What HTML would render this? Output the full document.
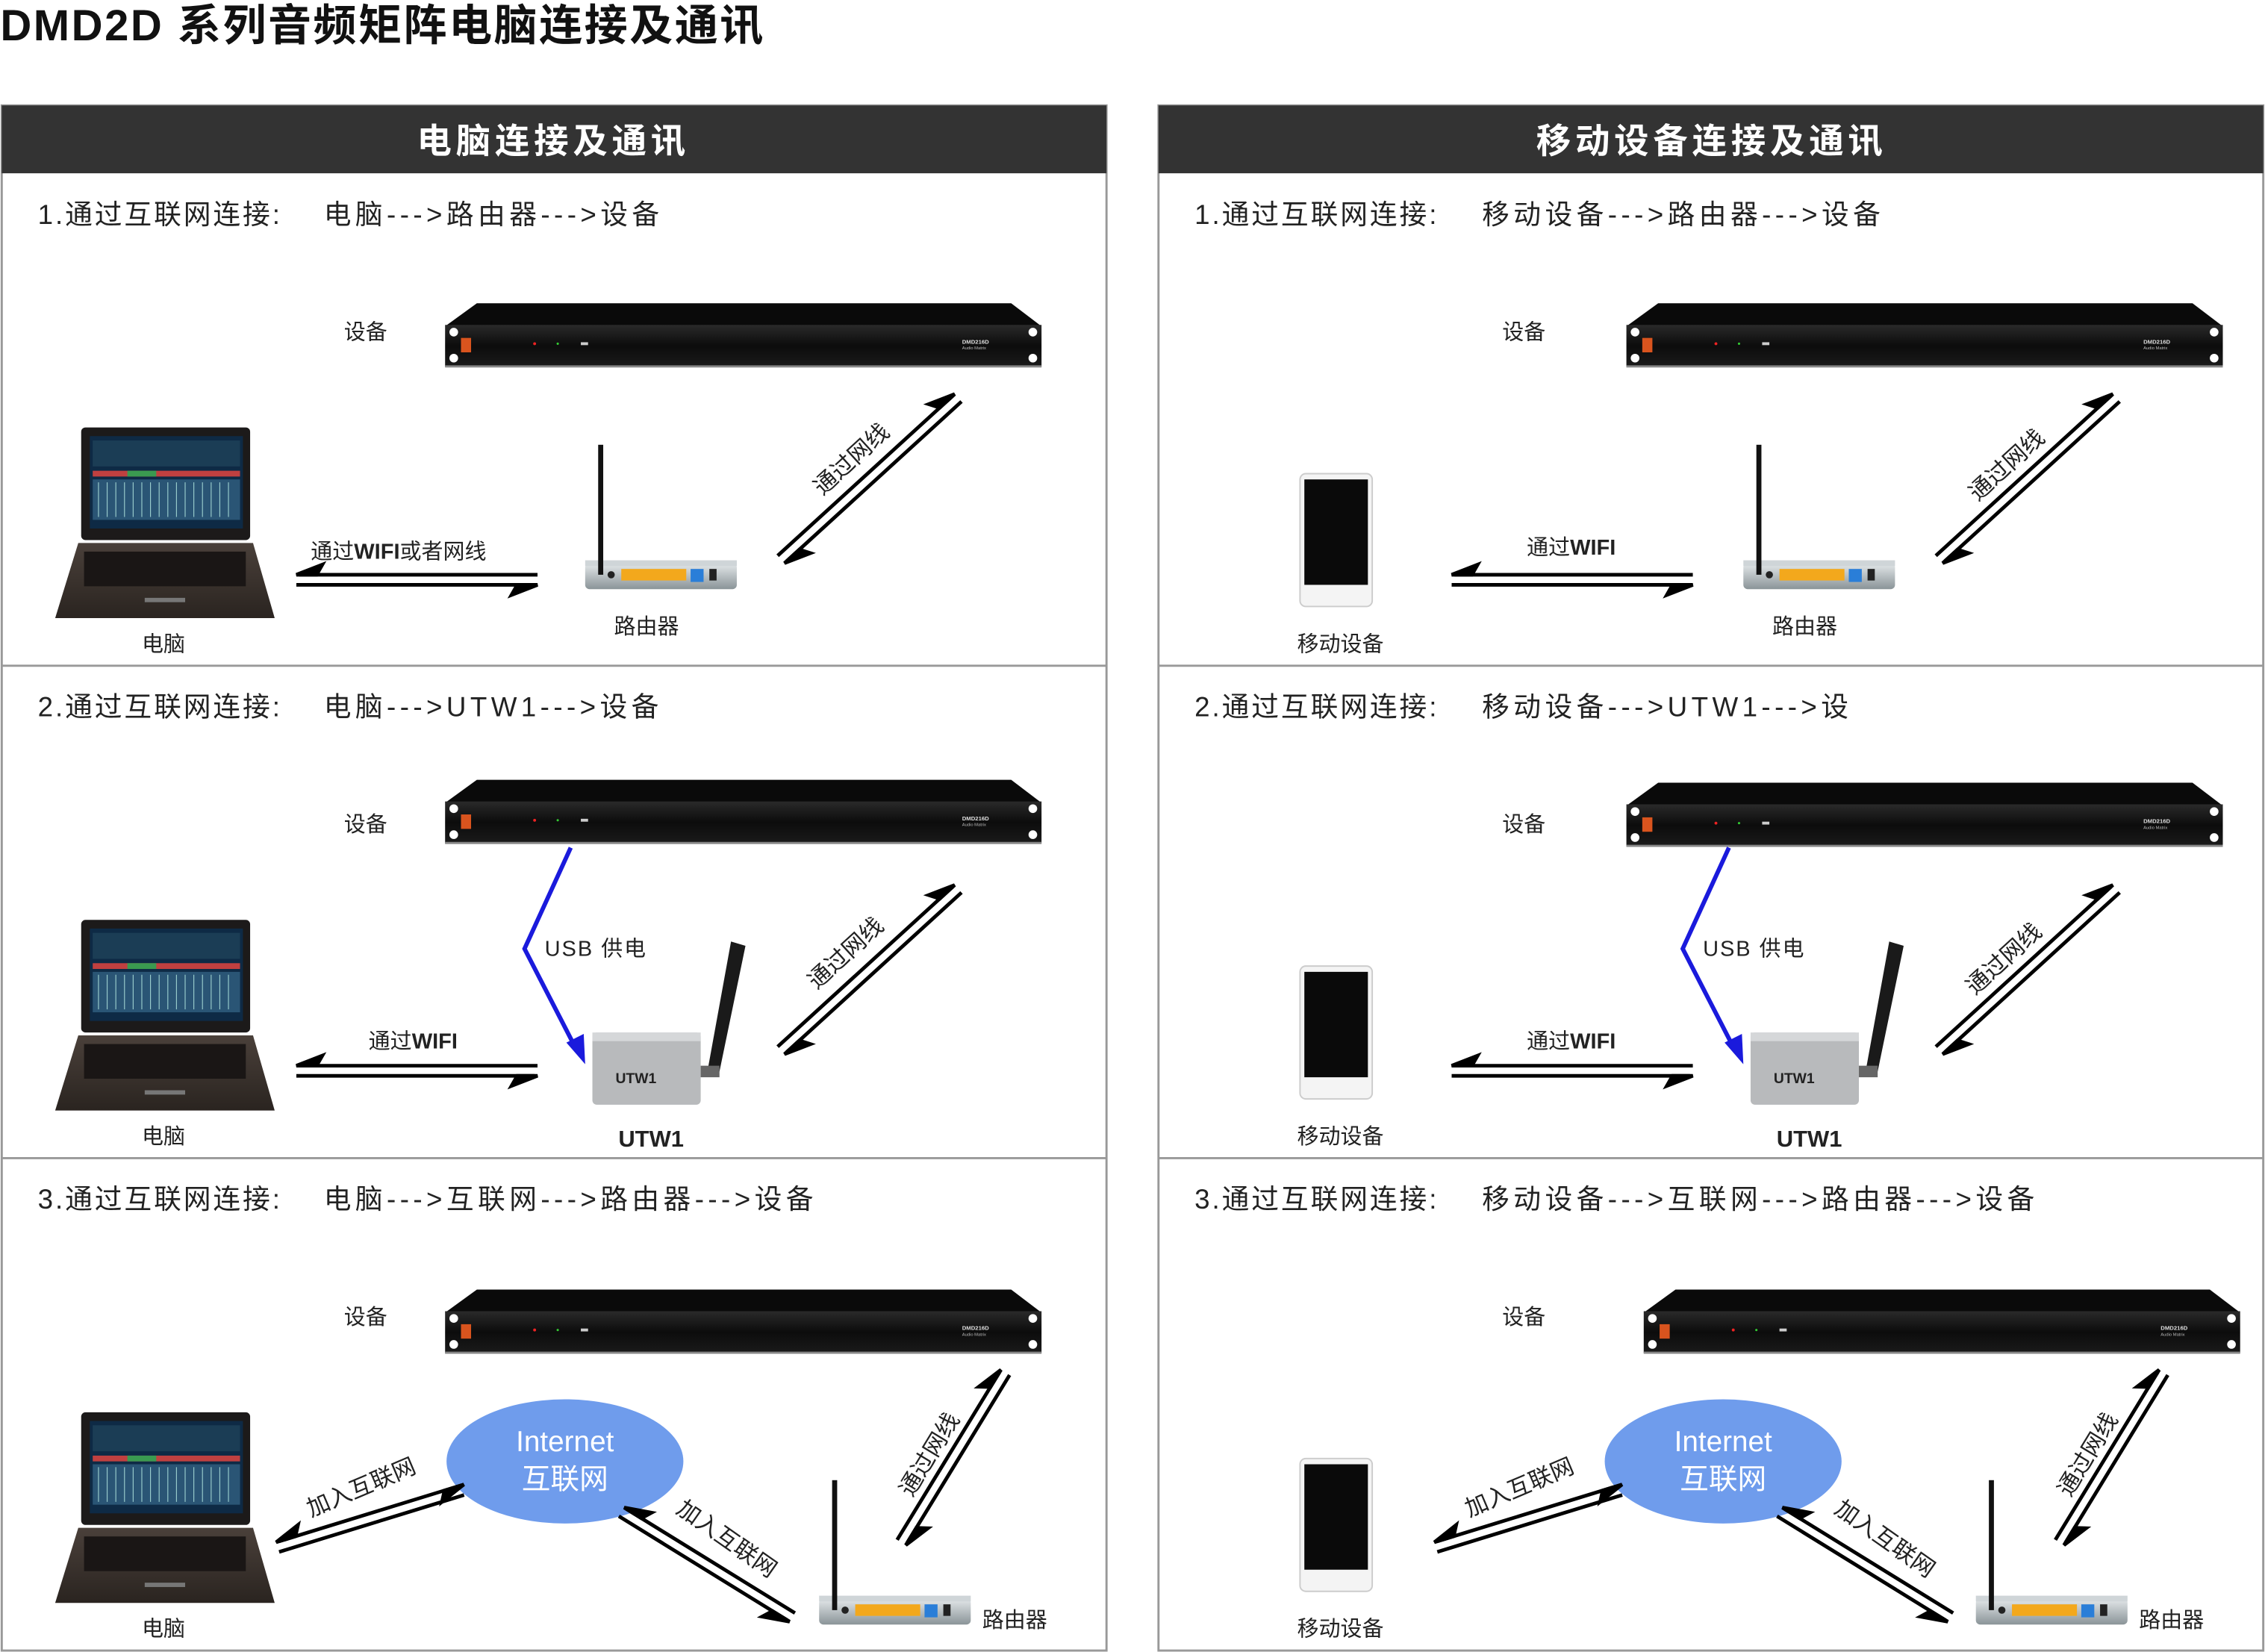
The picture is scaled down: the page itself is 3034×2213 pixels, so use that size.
<!DOCTYPE html>
<html><head><meta charset="utf-8"><style>
html,body{margin:0;padding:0;background:#fff}
svg{display:block}
text{font-family:"Liberation Sans","Noto Sans CJK SC",sans-serif}
</style></head><body>
<svg width="3034" height="2213" viewBox="0 0 1568 1144" xmlns="http://www.w3.org/2000/svg">
<defs>
<linearGradient id="fr" x1="0" y1="0" x2="0" y2="1"><stop offset="0" stop-color="#2a2a2a"/><stop offset="0.5" stop-color="#0c0c0c"/><stop offset="1" stop-color="#1a1a1a"/></linearGradient>
<linearGradient id="rt" x1="0" y1="0" x2="0" y2="1"><stop offset="0" stop-color="#e4e8ea"/><stop offset="1" stop-color="#8a9498"/></linearGradient>
<linearGradient id="lp" x1="0" y1="0" x2="0" y2="1"><stop offset="0" stop-color="#4a403a"/><stop offset="1" stop-color="#2a2420"/></linearGradient>
<g id="dev">
<path d="M22,0 L392,0 L413,16 L0,16 Z" fill="#0a0a0a"/>
<rect x="0" y="15" width="413" height="29" fill="url(#fr)"/>
<rect x="0" y="43" width="413" height="1.5" fill="#888"/>
<circle cx="6" cy="20" r="3" fill="#fff"/><circle cx="6" cy="38" r="3" fill="#fff"/>
<circle cx="407" cy="20" r="3" fill="#fff"/><circle cx="407" cy="38" r="3" fill="#fff"/>
<rect x="11" y="24" width="7" height="10" fill="#d9541e"/>
<circle cx="62" cy="28" r="1" fill="#e22"/><circle cx="78" cy="28" r="0.8" fill="#3c3"/>
<rect x="94" y="27" width="5" height="2" fill="#ccc"/>
<text x="358" y="28" font-size="4" fill="#ddd" font-weight="bold">DMD216D</text>
<text x="358" y="32" font-size="3" fill="#bbb">Audio Matrix</text>
</g>
<g id="lap">
<rect x="18" y="0" width="117" height="78" rx="3" fill="#1c1a1a"/>
<rect x="24" y="6" width="106" height="64" fill="#0e2a45"/>
<rect x="26" y="9" width="102" height="18" fill="#1b3d55"/>
<rect x="26" y="30" width="102" height="4" fill="#c04040"/>
<rect x="50" y="30" width="20" height="4" fill="#3a9a50"/>
<rect x="26" y="36" width="102" height="28" fill="#2a5575"/>
<g stroke="#9cc" stroke-width="0.6"><path d="M30,38v24M36,38v24M42,38v24M48,38v24M54,38v24M60,38v24M66,38v24M72,38v24M78,38v24M84,38v24M90,38v24M96,38v24M102,38v24M108,38v24M114,38v24M120,38v24"/></g>
<path d="M16,80 L137,80 L152,132 L0,132 Z" fill="url(#lp)"/>
<rect x="20" y="86" width="112" height="24" fill="#1a1615"/>
<rect x="62" y="118" width="28" height="3" fill="#777"/>
</g>
<g id="rtr">
<rect x="0" y="82" width="105" height="18" rx="3" fill="url(#rt)"/>
<rect x="0" y="80" width="105" height="4" fill="#cfd5d8"/>
<rect x="25" y="86" width="45" height="8" fill="#f3a81c"/>
<rect x="73" y="86" width="9" height="9" fill="#2a7ed8"/>
<circle cx="18" cy="90" r="2.5" fill="#222"/>
<rect x="86" y="86" width="5" height="8" fill="#222"/>
<rect x="9" y="0" width="3.5" height="90" fill="#111"/>
</g>
<g id="phone">
<rect x="0" y="0" width="50" height="92" rx="4" fill="#f4f4f4" stroke="#ccc"/>
<rect x="3" y="4" width="44" height="73" fill="#0a0a0a"/>
</g>
<g id="utw">
<path d="M96,0 L106,3 L88,90 L80,88 Z" fill="#1a1a1a"/>
<rect x="0" y="63" width="75" height="50" rx="3" fill="#b8babc"/>
<rect x="0" y="63" width="75" height="6" fill="#d5d7d9"/>
<rect x="75" y="86" width="13" height="8" fill="#666"/>
<text x="16" y="98" font-size="10" font-weight="bold" fill="#222">UTW1</text>
</g>
</defs>

<text x="0" y="28" font-size="30" font-weight="bold" fill="#111" letter-spacing="1.3">DMD2D 系列音频矩阵电脑连接及通讯</text>

<g stroke="#999" stroke-width="1.5" fill="none">
<rect x="1" y="73" width="765" height="1070"/>
<rect x="802" y="73" width="765" height="1070"/>
<line x1="1" y1="461" x2="766" y2="461"/><line x1="1" y1="802" x2="766" y2="802"/>
<line x1="802" y1="461" x2="1567" y2="461"/><line x1="802" y1="802" x2="1567" y2="802"/>
</g>
<rect x="1" y="73" width="765" height="47" fill="#333"/>
<rect x="802" y="73" width="765" height="47" fill="#333"/>
<text x="383" y="106" font-size="24" font-weight="bold" fill="#fff" text-anchor="middle" letter-spacing="3">电脑连接及通讯</text>
<text x="1185" y="106" font-size="24" font-weight="bold" fill="#fff" text-anchor="middle" letter-spacing="3">移动设备连接及通讯</text>

<g font-size="19" fill="#222" letter-spacing="1.5">
<text x="26" y="155">1.通过互联网连接:</text>
<text x="26" y="496">2.通过互联网连接:</text>
<text x="26" y="837">3.通过互联网连接:</text>
<text x="827" y="155">1.通过互联网连接:</text>
<text x="827" y="496">2.通过互联网连接:</text>
<text x="827" y="837">3.通过互联网连接:</text>
</g>
<g font-size="19" fill="#222" letter-spacing="2.8">
<text x="224" y="155">电脑--->路由器--->设备</text>
<text x="224" y="496">电脑--->UTW1--->设备</text>
<text x="224" y="837">电脑--->互联网--->路由器--->设备</text>
<text x="1026" y="155">移动设备--->路由器--->设备</text>
<text x="1026" y="496">移动设备--->UTW1--->设</text>
<text x="1026" y="837">移动设备--->互联网--->路由器--->设备</text>
</g>

<use href="#dev" x="308" y="210"/><use href="#dev" x="308" y="540"/><use href="#dev" x="308" y="893"/>
<use href="#dev" x="1126" y="210"/><use href="#dev" x="1126" y="542"/><use href="#dev" x="1138" y="893"/>
<g font-size="15" fill="#222">
<text x="238" y="235">设备</text><text x="238" y="576">设备</text><text x="238" y="917">设备</text>
<text x="1040" y="235">设备</text><text x="1040" y="576">设备</text><text x="1040" y="917">设备</text>
<text x="98" y="451">电脑</text><text x="98" y="792">电脑</text><text x="98" y="1133">电脑</text>
<text x="898" y="451">移动设备</text><text x="898" y="792">移动设备</text><text x="898" y="1133">移动设备</text>
<text x="425" y="439">路由器</text><text x="1227" y="439">路由器</text>
<text x="680" y="1127">路由器</text><text x="1481" y="1127">路由器</text>
<text x="215" y="387">通过<tspan font-weight="bold">WIFI</tspan>或者网线</text>
<text x="1057" y="384">通过<tspan font-weight="bold">WIFI</tspan></text>
<text x="255" y="726">通过<tspan font-weight="bold">WIFI</tspan></text>
<text x="1057" y="726">通过<tspan font-weight="bold">WIFI</tspan></text>
<text x="377" y="662" letter-spacing="1">USB 供电</text>
<text x="1179" y="662" letter-spacing="1">USB 供电</text>
<text x="428" y="794" font-weight="bold" font-size="16">UTW1</text>
<text x="1230" y="794" font-weight="bold" font-size="16">UTW1</text>
</g>

<use href="#lap" x="38" y="296"/><use href="#lap" x="38" y="637"/><use href="#lap" x="38" y="978"/>
<use href="#phone" x="900" y="328"/><use href="#phone" x="900" y="669"/><use href="#phone" x="900" y="1010"/>
<use href="#rtr" x="405" y="308"/><use href="#rtr" x="1207" y="308"/>
<use href="#rtr" x="567" y="1025"/><use href="#rtr" x="1368" y="1025"/>
<use href="#utw" x="410" y="652"/><use href="#utw" x="1212" y="652"/>

<g stroke="#1a1adc" stroke-width="3" fill="none"><polyline points="395,587 363,657 398,725"/><polyline points="1197,587 1165,657 1200,725"/></g>
<path d="M405,737 L392,722 L404,716 Z" fill="#1a1adc"/><path d="M1207,737 L1194,722 L1206,716 Z" fill="#1a1adc"/>

<ellipse cx="391" cy="1012" rx="82" ry="43" fill="#6f9cec"/>
<ellipse cx="1193" cy="1012" rx="82" ry="43" fill="#6f9cec"/>
<g fill="#fff" font-size="20" text-anchor="middle">
<text x="391" y="1005">Internet</text><text x="391" y="1031">互联网</text>
<text x="1193" y="1005">Internet</text><text x="1193" y="1031">互联网</text>
</g>

<g stroke="#000" stroke-width="2.5" fill="#000">
<g transform="translate(205,398)"><line x1="2" y1="0" x2="167" y2="0"/><path d="M0,0 L18,-7 L14,0 Z"/><line x1="0" y1="7" x2="165" y2="7"/><path d="M167,7 L149,14 L153,7 Z"/></g>
<g transform="translate(1005,398)"><line x1="2" y1="0" x2="167" y2="0"/><path d="M0,0 L18,-7 L14,0 Z"/><line x1="0" y1="7" x2="165" y2="7"/><path d="M167,7 L149,14 L153,7 Z"/></g>
<g transform="translate(205,738)"><line x1="2" y1="0" x2="167" y2="0"/><path d="M0,0 L18,-7 L14,0 Z"/><line x1="0" y1="7" x2="165" y2="7"/><path d="M167,7 L149,14 L153,7 Z"/></g>
<g transform="translate(1005,738)"><line x1="2" y1="0" x2="167" y2="0"/><path d="M0,0 L18,-7 L14,0 Z"/><line x1="0" y1="7" x2="165" y2="7"/><path d="M167,7 L149,14 L153,7 Z"/></g>
<g transform="translate(543,390) rotate(-42.4)"><line x1="2" y1="0" x2="166" y2="0"/><path d="M0,0 L18,7 L14,0 Z"/><line x1="0" y1="-7" x2="164" y2="-7"/><path d="M166,-7 L148,-14 L152,-7 Z"/></g>
<g transform="translate(1345,390) rotate(-42.4)"><line x1="2" y1="0" x2="166" y2="0"/><path d="M0,0 L18,7 L14,0 Z"/><line x1="0" y1="-7" x2="164" y2="-7"/><path d="M166,-7 L148,-14 L152,-7 Z"/></g>
<g transform="translate(543,730) rotate(-42.4)"><line x1="2" y1="0" x2="166" y2="0"/><path d="M0,0 L18,7 L14,0 Z"/><line x1="0" y1="-7" x2="164" y2="-7"/><path d="M166,-7 L148,-14 L152,-7 Z"/></g>
<g transform="translate(1345,730) rotate(-42.4)"><line x1="2" y1="0" x2="166" y2="0"/><path d="M0,0 L18,7 L14,0 Z"/><line x1="0" y1="-7" x2="164" y2="-7"/><path d="M166,-7 L148,-14 L152,-7 Z"/></g>
<g transform="translate(191,1068) rotate(-17.1)"><line x1="2" y1="0" x2="136" y2="0"/><path d="M0,0 L18,-7 L14,0 Z"/><line x1="0" y1="7" x2="134" y2="7"/><path d="M136,0 L118,7 L122,0 Z"/></g>
<g transform="translate(993,1068) rotate(-17.1)"><line x1="2" y1="0" x2="136" y2="0"/><path d="M0,0 L18,-7 L14,0 Z"/><line x1="0" y1="7" x2="134" y2="7"/><path d="M136,0 L118,7 L122,0 Z"/></g>
<g transform="translate(432,1044) rotate(31.7)"><line x1="2" y1="0" x2="139" y2="0"/><path d="M0,0 L18,-7 L14,0 Z"/><line x1="0" y1="7" x2="137" y2="7"/><path d="M139,7 L121,14 L125,7 Z"/></g>
<g transform="translate(1234,1044) rotate(31.7)"><line x1="2" y1="0" x2="139" y2="0"/><path d="M0,0 L18,-7 L14,0 Z"/><line x1="0" y1="7" x2="137" y2="7"/><path d="M139,7 L121,14 L125,7 Z"/></g>
<g transform="translate(627,1070) rotate(-58.6)"><line x1="2" y1="0" x2="138" y2="0"/><path d="M0,0 L18,7 L14,0 Z"/><line x1="0" y1="-7" x2="136" y2="-7"/><path d="M138,-7 L120,-14 L124,-7 Z"/></g>
<g transform="translate(1429,1070) rotate(-58.6)"><line x1="2" y1="0" x2="138" y2="0"/><path d="M0,0 L18,7 L14,0 Z"/><line x1="0" y1="-7" x2="136" y2="-7"/><path d="M138,-7 L120,-14 L124,-7 Z"/></g>
</g>

<g font-size="16" fill="#222" text-anchor="middle">
<text transform="translate(593,322) rotate(-42.4)">通过网线</text>
<text transform="translate(1393,326) rotate(-42.4)">通过网线</text>
<text transform="translate(589,664) rotate(-42.4)">通过网线</text>
<text transform="translate(1391,668) rotate(-42.4)">通过网线</text>
<text transform="translate(648,1010) rotate(-58.6)">通过网线</text>
<text transform="translate(1450,1010) rotate(-58.6)">通过网线</text>
<text transform="translate(252,1035) rotate(-23)">加入互联网</text>
<text transform="translate(1054,1035) rotate(-23)">加入互联网</text>
<text transform="translate(500,1070) rotate(35)">加入互联网</text>
<text transform="translate(1302,1070) rotate(35)">加入互联网</text>
</g>
</svg>
</body></html>
